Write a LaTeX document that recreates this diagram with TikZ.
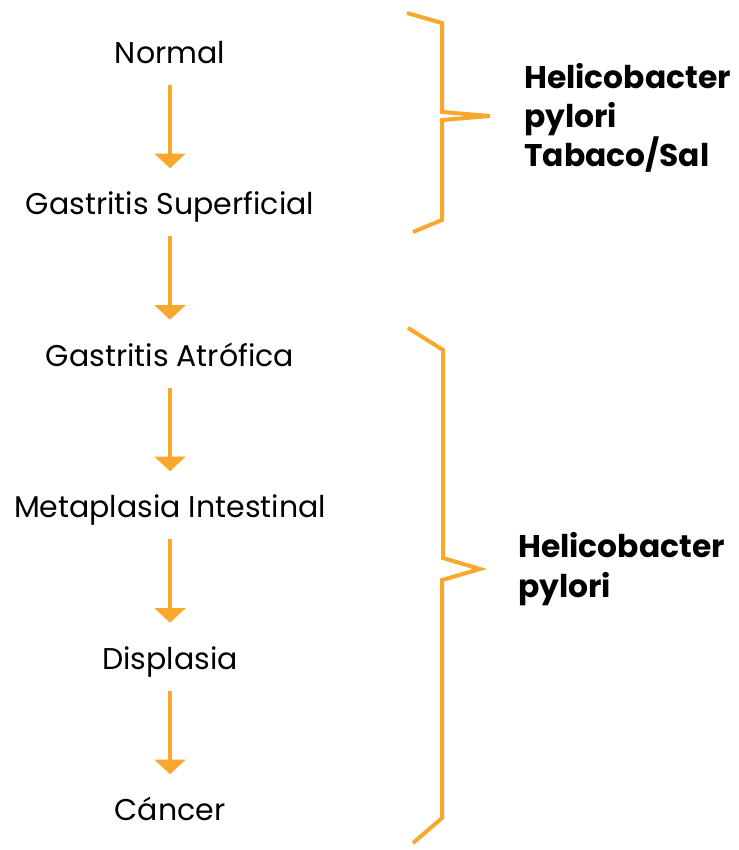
\documentclass[tikz,border=0pt]{standalone}
\usepackage{fontspec}
\setmainfont{Poppins}
\usepackage{xcolor}
\usetikzlibrary{arrows.meta}
\definecolor{amber}{HTML}{F9A82D}

\begin{document}
\begin{tikzpicture}[x=0.75pt,y=-0.75pt,
  stage/.style={inner sep=0pt, anchor=base, font=\fontsize{22.5}{26}\selectfont, text height=16.5pt, text depth=0pt},
  cause/.style={inner sep=0pt, anchor=west, align=left, font=\fontsize{23.5}{29.5}\selectfont\bfseries},
  flow/.style={draw=amber, line width=3.4pt, -{Triangle[width=23pt,length=11pt]}, shorten <=16pt, shorten >=18pt},
  brace/.style={draw=amber, line width=3pt, line join=miter}]
  \useasboundingbox (0,0) rectangle (739,850);
  \node[stage] (normal) at (170,63) {Normal};
  \node[stage] (superficial) at (170,214.5) {Gastritis Superficial};
  \node[stage] (atrofica) at (170,366) {Gastritis Atrófica};
  \node[stage] (metaplasia) at (170,517.5) {Metaplasia Intestinal};
  \node[stage] (displasia) at (170,669) {Displasia};
  \node[stage] (cancer) at (170,820.5) {Cáncer};
  \draw[flow] (normal.south) -- (superficial.north);
  \draw[flow] (superficial.south) -- (atrofica.north);
  \draw[flow] (atrofica.south) -- (metaplasia.north);
  \draw[flow] (metaplasia.south) -- (displasia.north);
  \draw[flow] (displasia.south) -- (cancer.north);
  \draw[brace] (407,13) -- (442,23) -- (442,112) -- (490,116) -- (442,120) -- (442,220) -- (413,232);
  \draw[brace] (408,328) -- (443,350) -- (443,558) -- (480,569) -- (442,580) -- (442,818) -- (413,843);
  \node[cause] (hpsal) at (524,118) {Helicobacter\\pylori\\Tabaco/Sal};
  \node[cause] (hp) at (518,569) {Helicobacter\\pylori};
\end{tikzpicture}
\end{document}
